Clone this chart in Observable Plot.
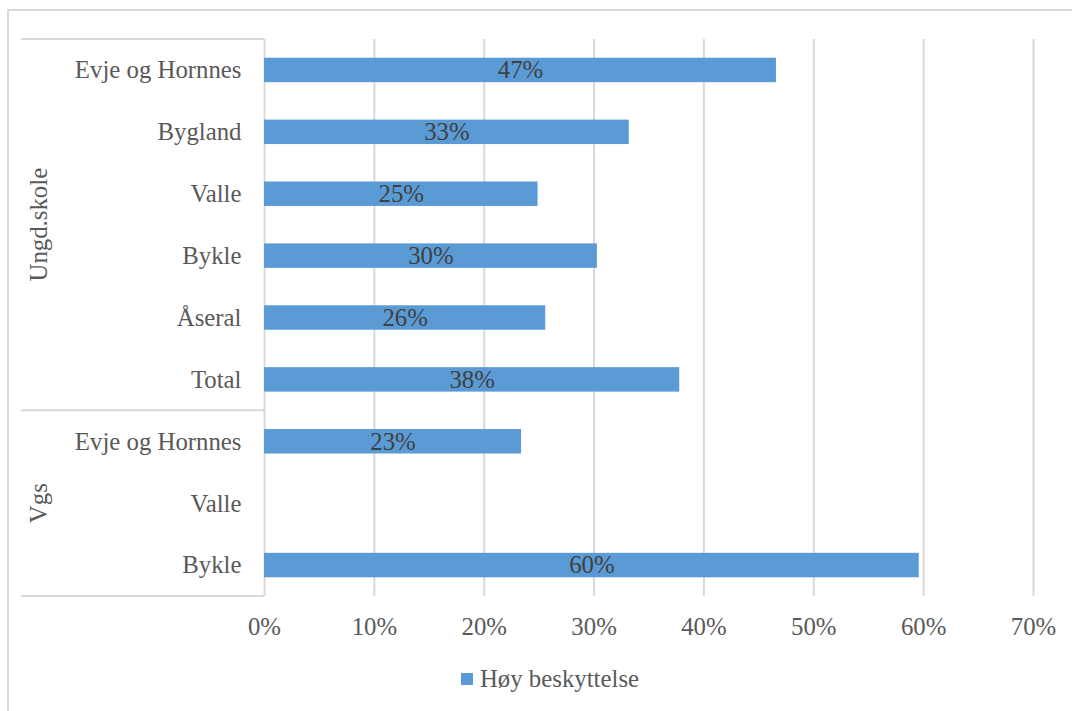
<!DOCTYPE html>
<html>
<head>
<meta charset="utf-8">
<script src="https://cdn.jsdelivr.net/npm/d3@7"></script>
<script src="https://cdn.jsdelivr.net/npm/@observablehq/plot@0.6"></script>
<style>
  html, body { margin: 0; padding: 0; background: #fff; }
  body { width: 1072px; height: 711px; overflow: hidden; position: relative; font-family: "Liberation Serif", serif; }
  #frame { position: absolute; left: 7px; top: 9px; width: 1100px; height: 740px; border: 2px solid #d9d9d9; pointer-events: none; }
  #chart { position: absolute; left: 0; top: 0; }
  #legend { position: absolute; left: 0; top: 650px; width: 1072px; display: flex; justify-content: center; padding-top: 16px; color: #595959; font-size: 24.8px; line-height: 26px; }
  #legend .sw { display: inline-block; width: 12px; height: 12px; background: #5b9bd5; margin-right: 7px; margin-top: 7px; }
  #legend .it { display: flex; align-items: flex-start; margin-left: 28px; }
</style>
</head>
<body>
<div id="frame"></div>
<div id="chart"></div>
<div id="legend"><div class="it"><span class="sw"></span><span>Høy beskyttelse</span></div></div>
<script>
const groups = ["Ungd.skole", "Ungd.skole", "Ungd.skole", "Ungd.skole", "Ungd.skole", "Ungd.skole", "Vgs", "Vgs", "Vgs"];
const categories = ["Evje og Hornnes", "Bygland", "Valle", "Bykle", "Åseral", "Total", "Evje og Hornnes", "Valle", "Bykle"];
const values = [0.466, 0.332, 0.249, 0.303, 0.256, 0.378, 0.234, null, 0.596];
const xTicks = [0, 0.1, 0.2, 0.3, 0.4, 0.5, 0.6, 0.7];
const seriesName = "Høy beskyttelse";

const rows = categories.map((c, i) => ({key: groups[i] + "|" + c, group: groups[i], label: c, value: values[i]}));
const keys = rows.map(d => d.key);
const groupNames = [...new Set(groups)];
const pct = v => Math.round(v * 100) + "%";

const W = 1072, H = 650, FS = 24.8;

function groupStructure(index, scales) {
  const y = scales.y, x = scales.x;
  const step = y.step(), bw = y.bandwidth();
  const off = (step - bw) / 2;
  const x0 = x(0);
  const g = d3.create("svg:g");
  const lines = [];
  groupNames.forEach((gn, gi) => {
    const ks = rows.filter(r => r.group === gn).map(r => r.key);
    const top = y(ks[0]) - off;
    const bot = y(ks[ks.length - 1]) + bw + off;
    lines.push(top);
    if (gi === groupNames.length - 1) lines.push(bot);
    g.append("text")
      .attr("transform", `translate(38,${(top + bot) / 2}) rotate(-90)`)
      .attr("text-anchor", "middle")
      .attr("dominant-baseline", "central")
      .attr("fill", "#595959")
      .attr("font-size", FS)
      .text(gn);
  });
  lines.forEach(ly => {
    g.append("line")
      .attr("x1", 21).attr("x2", x0)
      .attr("y1", ly).attr("y2", ly)
      .attr("stroke", "#d9d9d9").attr("stroke-width", 2);
  });
  return g.node();
}

const chart = Plot.plot({
  width: W,
  height: H,
  marginLeft: 264,
  marginRight: 39,
  marginTop: 39,
  marginBottom: H - 596,
  style: {fontFamily: "Liberation Serif, serif", fontSize: FS + "px", color: "#595959", background: "transparent", overflow: "visible"},
  x: {domain: [0, 0.7], ticks: xTicks, tickFormat: pct, tickSize: 0, tickPadding: 21, label: null},
  y: {domain: keys, round: false, paddingInner: 0.605, paddingOuter: 0.3025, tickSize: 0, tickPadding: 23, tickFormat: d => d.split("|")[1], label: null},
  marks: [
    Plot.ruleX(xTicks, {stroke: "#d9d9d9", strokeWidth: 2}),
    Plot.barX(rows.filter(d => d.value != null), {y: "key", x: "value", fill: "#5b9bd5"}),
    Plot.text(rows.filter(d => d.value != null), {y: "key", x: d => d.value / 2, text: d => pct(d.value), fill: "#404040", fontSize: FS}),
    groupStructure
  ]
});
document.getElementById("chart").appendChild(chart);
</script>
</body>
</html>
